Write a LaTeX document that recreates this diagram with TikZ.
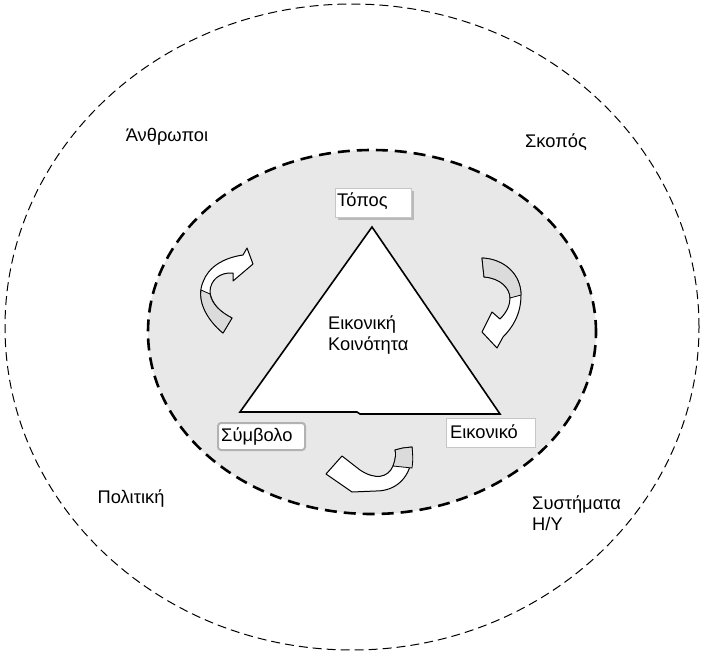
\documentclass[tikz,border=0pt]{standalone}
\usepackage{fontspec}
\setmainfont{Liberation Sans}
\definecolor{bg}{gray}{0.91}
\definecolor{tailgray}{gray}{0.86}
\begin{document}
\begin{tikzpicture}[x=1pt,y=-1pt,
  lbl/.style={font=\fontsize{18.3}{21}\selectfont, inner sep=0pt},
  boxshadow/.style={fill=gray!55, draw=none},
  labelbox/.style={fill=white, draw=gray!45, line width=0.8pt},
  curvarrow/.style={fill=white, draw=black, line width=1pt, line join=round},
  tailpart/.style={fill=tailgray, draw=black, line width=0.8pt, line join=round}]
\useasboundingbox (0,0) rectangle (704,653);
\fill[white] (0,0) rectangle (704,653);
% outer dashed ellipse
\draw[line width=1pt, dash pattern=on 9pt off 5pt] (352,327) ellipse [x radius=347pt, y radius=323pt];
% inner grey dashed ellipse
\draw[fill=bg, line width=2.6pt, dash pattern=on 12pt off 7pt] (372,332) ellipse [x radius=224pt, y radius=182pt];
% triangle
\coordinate (apex) at (372,227);
\coordinate (bl) at (240,412);
\coordinate (br) at (500,414);
\draw[fill=white, line width=1.6pt, line join=miter] (apex) -- (br) -- (360,414) -- (357,412) -- (bl) -- cycle;
% label boxes
\fill[boxshadow] (338,191) rectangle (414,220);
\draw[labelbox] (335,188) rectangle (411,217);
\node[lbl, anchor=west] (topos) at (337,201) {Τόπος};
\draw[labelbox, draw=gray!60, line width=2pt, rounded corners=3pt] (218,423) rectangle (305,450);
\node[lbl, anchor=west] (symvolo) at (221,436) {Σύμβολο};
\draw[labelbox] (446,418) rectangle (535,447);
\node[lbl, anchor=west] (eikoniko) at (450,432) {Εικονικό};
% centre text
\node[lbl, align=left, anchor=north west] (vc) at (328,316) {Εικονική\\Κοινότητα};
% outer texts
\node[lbl] (anthropoi) at (167,137) {Άνθρωποι};
\node[lbl] (skopos) at (556,142) {Σκοπός};
\node[lbl] (politiki) at (131,498) {Πολιτική};
\node[lbl, align=left, anchor=north west] (systimata) at (532,496) {Συστήματα\\Η/Υ};
% left curved arrow
\draw[curvarrow] (223,333) .. controls (205,318) and (196,298) .. (203,282)
  .. controls (208,268) and (222,258) .. (243,255) -- (247,248) -- (253,264) -- (233,281) -- (233,273)
  .. controls (220,272) and (210,280) .. (210,292)
  .. controls (211,303) and (220,312) .. (232,318) -- cycle;
\draw[tailpart] (223,333) .. controls (207,320) and (199,303) .. (201,290) -- (210,294)
  .. controls (212,304) and (220,312) .. (232,318) -- cycle;
% right curved arrow
\draw[curvarrow] (482,258) .. controls (505,259) and (521,275) .. (521,295)
  .. controls (521,315) and (512,328) .. (503,337) -- (497,348) -- (482,332) -- (492,312) -- (500,319)
  .. controls (507,312) and (510,305) .. (510,298)
  .. controls (510,288) and (500,278) .. (484,277) -- cycle;
\draw[tailpart] (482,258) .. controls (505,259) and (521,275) .. (521,295) -- (510,298)
  .. controls (510,288) and (500,278) .. (484,277) -- cycle;
% bottom curved arrow
\draw[curvarrow] (412,447) .. controls (414,472) and (400,491) .. (376,491) -- (352,492) -- (326,474) -- (342,456) -- (360,470)
  .. controls (375,480) and (388,478) .. (393,466)
  .. controls (396,458) and (396,453) .. (395,450) -- (403,448) -- cycle;
\draw[tailpart] (395,450) -- (403,448) -- (412,447) .. controls (413,455) and (413,462) .. (412,468) -- (393,466)
  .. controls (396,458) and (396,453) .. (395,450) -- cycle;
\end{tikzpicture}
\end{document}
